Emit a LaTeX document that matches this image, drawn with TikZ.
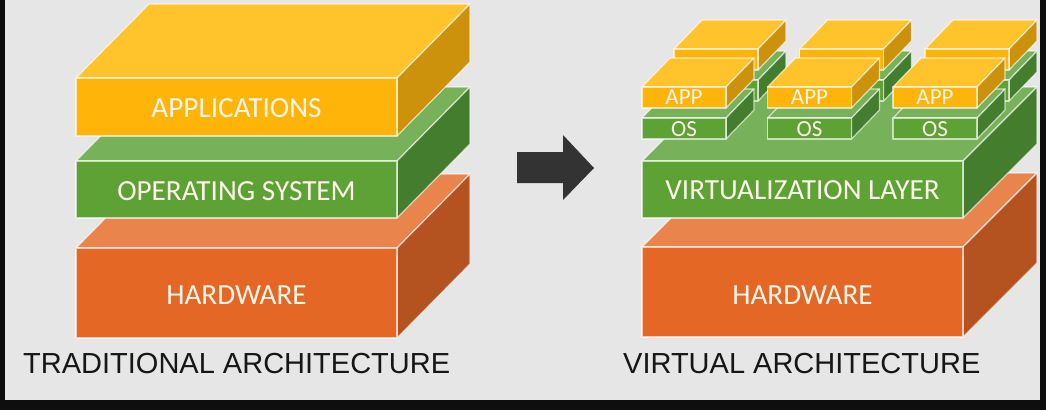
\documentclass[tikz,border=0pt]{standalone}
\usepackage{fontspec}
\setmainfont{Carlito}
\newfontfamily\capfont{Liberation Sans}
\definecolor{yF}{HTML}{FFB40A}
\definecolor{yT}{HTML}{FFC32C}
\definecolor{yS}{HTML}{CC920C}
\definecolor{gF}{HTML}{5EA135}
\definecolor{gT}{HTML}{77B15A}
\definecolor{gS}{HTML}{447D2E}
\definecolor{oF}{HTML}{E46725}
\definecolor{oT}{HTML}{E8844C}
\definecolor{oS}{HTML}{B55320}
\definecolor{bgc}{HTML}{E6E6E6}
\definecolor{framec}{HTML}{0E0E0E}
\definecolor{arrowc}{HTML}{333333}
\definecolor{lblc}{HTML}{FBF6E9}
\definecolor{capc}{HTML}{161616}
% cuboid: x, y(top of front face), width, height, depth dx, depth dy, colour family
\newcommand\cub[7]{%
  \filldraw[facet,fill=#7T] (#1,#2) -- ++(#5,-#6) -- ++(#3,0) -- ++(-#5,#6) -- cycle;
  \filldraw[facet,fill=#7S] (#1+#3,#2) -- ++(#5,-#6) -- ++(0,#4) -- ++(-#5,#6) -- cycle;
  \filldraw[facet,fill=#7F] (#1,#2) rectangle ++(#3,#4);
}
\tikzset{
  facet/.style={draw=white, draw opacity=0.65, line width=1.2pt, line join=round},
  biglbl/.style={text=lblc, font=\fontsize{29.2}{32}\selectfont, inner sep=0pt, anchor=base},
  smalllbl/.style={text=lblc, font=\fontsize{23}{25}\selectfont, inner sep=0pt, anchor=base},
  caption/.style={text=capc, font=\capfont\fontsize{29}{32}\selectfont, inner sep=0pt, anchor=base west},
}
\begin{document}
\begin{tikzpicture}[x=1pt,y=-1pt]
\useasboundingbox (0,0) rectangle (1046,410);
\fill[framec] (0,0) rectangle (1046,410);
\fill[bgc] (5,0) rectangle (1040,400);

% ---- traditional stack ----
\cub{76}{248}{321}{90}{73}{74}{o}
\cub{76}{161}{321}{57}{73}{74}{g}
\cub{76}{78}{321}{58}{73}{74}{y}
\node[biglbl] (apps) at (236.5,117) {APPLICATIONS};
\node[biglbl] (os) at (236.5,200) {OPERATING SYSTEM};
\node[biglbl] (hwl) at (236.5,304) {HARDWARE};
\node[caption] (trad) at (23,373) {TRADITIONAL ARCHITECTURE};

% ---- arrow ----
\fill[arrowc] (517,152) -- (563,152) -- (563,135) -- (594,168) -- (563,200) -- (563,183) -- (517,183) -- cycle;

% ---- virtual stack ----
\cub{642}{247}{321}{90}{74}{74}{o}
\cub{642}{161}{321}{57}{74}{74}{g}
\node[biglbl] (virt) at (802.5,199) {VIRTUALIZATION LAYER};
\node[biglbl] (hwr) at (802.5,304) {HARDWARE};
\foreach \x in {642,767.5,893}{
  \cub{\x+32}{80}{84}{21}{28}{29}{g}
  \cub{\x+32}{49}{84}{21}{28}{29}{y}
}
\foreach \x/\n in {642/1,767.5/2,893/3}{
  \cub{\x}{118}{84}{21}{28}{29}{g}
  \cub{\x}{87}{84}{21}{28}{29}{y}
  \node[smalllbl] (app\n) at (\x+42,104.5) {APP};
  \node[smalllbl] (os\n) at (\x+42,136) {OS};
}
\node[caption] (virtarch) at (623,373) {VIRTUAL ARCHITECTURE};
\end{tikzpicture}
\end{document}
